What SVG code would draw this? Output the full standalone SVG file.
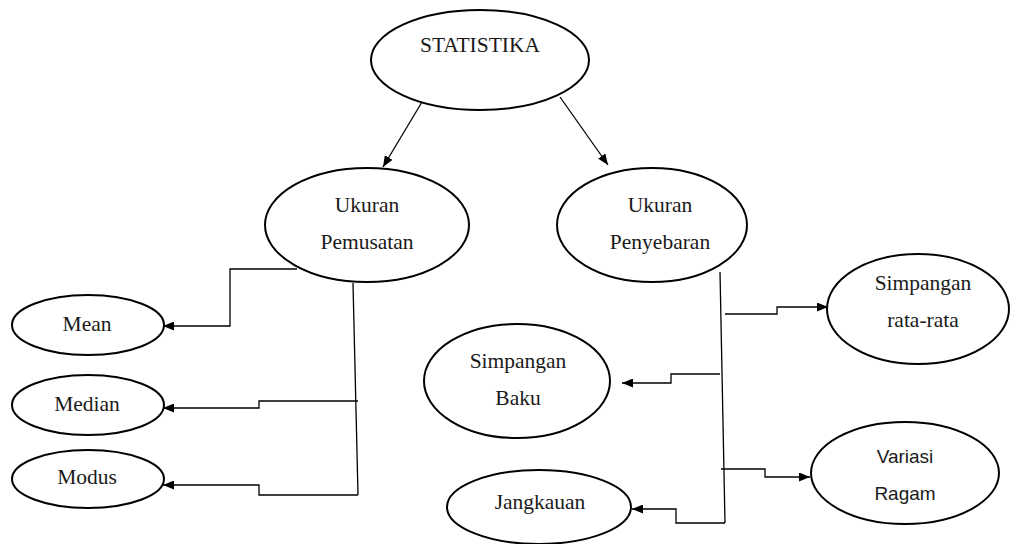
<svg xmlns="http://www.w3.org/2000/svg" width="1012" height="544" viewBox="0 0 1012 544">
<style>
.node ellipse{fill:#fff;stroke:#000;stroke-width:2}
.t{font-family:"Liberation Serif","Times New Roman",serif;font-size:21.5px;fill:#1a1a1a;text-anchor:middle}
.s{font-family:"Liberation Sans",Arial,sans-serif;font-size:19px;fill:#1a1a1a;text-anchor:middle}
.c{fill:none;stroke:#000;stroke-width:1.3}
</style>
<defs>
<marker id="ah" markerUnits="userSpaceOnUse" markerWidth="11" markerHeight="9" refX="11" refY="4.5" orient="auto">
<path d="M0,0 L11,4.5 L0,9 z" fill="#000"/>
</marker>
</defs>
<rect width="1012" height="544" fill="#fff"/>
<g id="connectors">
<path class="c" d="M425,97 L383,167" marker-end="url(#ah)"/>
<path class="c" d="M560,97 L608,165" marker-end="url(#ah)"/>
<path class="c" d="M297,269 H230 V326 H163" marker-end="url(#ah)"/>
<path class="c" d="M353,283 L358,495"/>
<path class="c" d="M358,401 H259 V408 H163" marker-end="url(#ah)"/>
<path class="c" d="M358,495 H259 V485 H163" marker-end="url(#ah)"/>
<path class="c" d="M720,272 L725,523"/>
<path class="c" d="M720,374 H671 V383 H622" marker-end="url(#ah)"/>
<path class="c" d="M725,523 H676 V509 H632" marker-end="url(#ah)"/>
<path class="c" d="M725,314 H777 V307 H828" marker-end="url(#ah)"/>
<path class="c" d="M721,469 H765 V477 H810" marker-end="url(#ah)"/>
</g>
<g id="statistika" class="node">
<ellipse cx="480" cy="60" rx="109" ry="50"/>
<text class="t" x="480" y="52">STATISTIKA</text>
</g>
<g id="pemusatan" class="node">
<ellipse cx="367" cy="225" rx="102" ry="57"/>
<text class="t" x="367" y="212">Ukuran</text>
<text class="t" x="367" y="249">Pemusatan</text>
</g>
<g id="penyebaran" class="node">
<ellipse cx="652" cy="225" rx="95" ry="57"/>
<text class="t" x="660" y="212">Ukuran</text>
<text class="t" x="660" y="249">Penyebaran</text>
</g>
<g id="mean" class="node">
<ellipse cx="88" cy="325" rx="76" ry="30"/>
<text class="t" x="87" y="331">Mean</text>
</g>
<g id="median" class="node">
<ellipse cx="88" cy="405" rx="76" ry="30"/>
<text class="t" x="87" y="411">Median</text>
</g>
<g id="modus" class="node">
<ellipse cx="88" cy="479" rx="76" ry="29"/>
<text class="t" x="87" y="484">Modus</text>
</g>
<g id="simpangan-baku" class="node">
<ellipse cx="517" cy="381" rx="93" ry="57"/>
<text class="t" x="518" y="368">Simpangan</text>
<text class="t" x="518" y="405">Baku</text>
</g>
<g id="jangkauan" class="node">
<ellipse cx="539" cy="507" rx="92" ry="37"/>
<text class="t" x="540" y="509">Jangkauan</text>
</g>
<g id="simpangan-rata" class="node">
<ellipse cx="918" cy="309" rx="91" ry="55"/>
<text class="t" x="923" y="290">Simpangan</text>
<text class="t" x="923" y="327">rata-rata</text>
</g>
<g id="variasi-ragam" class="node">
<ellipse cx="905" cy="473" rx="94" ry="51"/>
<text class="s" x="905" y="463">Variasi</text>
<text class="s" x="905" y="500">Ragam</text>
</g>
</svg>
